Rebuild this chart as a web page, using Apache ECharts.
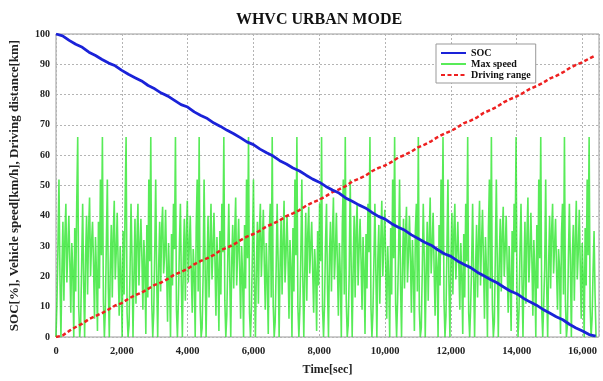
<!DOCTYPE html>
<html>
<head>
<meta charset="utf-8">
<script src="https://cdn.jsdelivr.net/npm/echarts@6/dist/echarts.min.js"></script>
<style>html,body{margin:0;padding:0;background:#fff;}#c{width:603px;height:381px;}</style>
</head>
<body>
<div id="c"></div>
<script>
// ---- data ----
const titleText = 'WHVC URBAN MODE';
const xName = 'Time[sec]';
const yName = 'SOC[%], Vehicle speed[km/h], Driving distance[km]';
const seriesNames = ['SOC', 'Max speed', 'Driving range'];
const xTicks = [0, 2000, 4000, 6000, 8000, 10000, 12000, 14000, 16000];
const yTicks = [0, 10, 20, 30, 40, 50, 60, 70, 80, 90, 100];

// SOC [%] and driving distance [km], sampled every 200 s
const lineStep = 200;
const socValues = [100.0,99.4,97.9,96.6,95.6,94.0,92.9,91.6,90.4,89.5,88.0,86.7,85.6,84.5,83.0,81.9,80.5,79.5,78.1,76.7,75.9,74.3,73.1,72.1,70.6,69.5,68.2,67.1,65.8,64.4,63.5,62.0,60.8,59.7,58.2,57.1,55.8,54.8,53.4,52.1,51.1,49.7,48.5,47.5,45.9,44.8,43.6,42.6,41.1,39.8,38.9,37.4,36.2,35.2,33.7,32.5,31.3,30.3,28.8,27.5,26.6,25.1,23.9,22.9,21.4,20.2,19.0,17.9,16.5,15.2,14.3,12.8,11.6,10.5,9.1,7.9,6.7,5.7,4.2,3.0,2.0,0.8,0.3];
const distValues = [0.0,0.5,2.0,3.3,4.4,5.9,6.9,7.9,9.1,10.4,11.2,12.6,13.8,14.6,15.9,17.2,18.0,19.2,20.6,21.5,22.5,24.0,25.1,26.0,27.1,28.6,29.5,30.5,31.9,33.1,34.0,35.1,36.5,37.4,38.5,39.9,40.8,41.9,43.3,44.4,45.3,46.5,47.8,48.7,49.8,51.3,52.2,53.2,54.7,55.8,56.6,57.8,59.2,60.1,61.2,62.6,63.5,64.6,66.0,67.1,68.0,69.2,70.6,71.4,72.5,74.0,74.9,76.0,77.4,78.5,79.4,80.6,81.9,82.8,83.9,85.3,86.2,87.3,88.7,89.8,90.7,91.9,93.0];

// vehicle speed [km/h], sampled every 30 s
const speedStep = 30;
const speedValues = [
0,12,30,52,20,0,22,38,12,33,44,18,29,40,25,8,31,22,0,36,15,44,66,10,0,
5,24,44,18,0,27,40,14,35,46,20,31,38,24,6,33,21,2,38,16,52,27,66,12,0,
9,31,52,16,0,24,37,13,34,45,19,28,41,23,7,30,20,0,35,14,44,66,8,0,
4,22,44,26,0,21,39,11,32,44,17,30,39,26,9,32,23,1,37,13,52,25,66,11,0,
8,28,52,19,0,23,38,15,36,43,21,27,42,24,5,31,19,0,34,17,44,29,66,9,0,
12,30,44,17,0,26,39,12,33,45,18,30,40,22,8,29,21,0,36,52,15,66,10,0,
3,20,52,24,0,22,40,13,31,44,19,29,41,25,7,33,22,2,35,14,44,28,66,12,0,
7,26,44,20,0,25,37,16,34,46,17,28,39,23,6,30,20,0,37,16,52,26,66,8,0,
10,29,52,18,0,23,38,11,35,44,20,31,42,24,9,31,19,1,34,44,13,66,11,0,
5,23,44,25,0,24,39,14,32,45,18,27,40,26,6,32,23,0,36,15,52,27,66,10,0,
9,27,52,19,0,22,41,12,34,43,21,30,38,22,8,29,21,2,35,17,44,25,66,9,0,
11,31,44,16,0,27,38,15,33,46,19,28,41,24,7,31,20,0,37,52,14,66,12,0,
4,21,52,23,0,23,40,13,35,44,17,29,39,25,9,33,22,1,34,16,44,28,66,10,0,
8,25,44,21,0,26,37,11,32,45,20,31,42,23,6,30,19,0,36,14,52,26,66,11,0,
12,28,52,17,0,24,39,16,34,43,18,27,40,26,8,32,21,2,35,44,15,66,9,0,
3,22,44,26,0,22,38,12,33,46,21,30,41,22,7,29,23,0,37,17,52,27,66,12,0,
7,30,52,18,0,25,41,14,35,44,19,28,38,24,9,31,20,1,34,13,44,25,66,8,0,
10,24,44,20,0,23,37,13,32,45,17,31,42,25,6,33,22,0,36,52,16,66,10,0,
5,27,52,24,0,26,39,15,34,43,20,29,40,23,8,30,19,2,35,15,44,28,66,11,0,
9,29,44,19,0,22,38,11,33,46,18,27,41,26,7,32,21,0,37,16,52,26,66,9,0,
11,23,52,17,0,24,40,16,35,44,21,30,39,22,9,29,23,1,34,44,14,66,12,0,
4,26,44,25,0,27,37,12,32,45,19,28,42,24,6,31,20,0,36,17,52,27,66,10,0,
6,22,35,14,0
];

// ---- build series pairs ----
const socData = socValues.map((v, i) => [i * lineStep, v]);
const distData = distValues.map((v, i) => [i * lineStep, v]);
const speedData = speedValues.map((v, i) => [i * speedStep, v]);

const serif = '"Liberation Serif", "DejaVu Serif", "Times New Roman", serif';
const chart = echarts.init(document.getElementById('c'), null, {renderer: 'canvas'});
chart.setOption({
  animation: false,
  backgroundColor: '#ffffff',
  title: {
    text: titleText, left: 314, top: 7, textAlign: 'center',
    textStyle: {fontFamily: serif, fontWeight: 'bold', fontSize: 16, color: '#111'}
  },
  legend: {
    orient: 'vertical', left: 436, top: 44,
    data: seriesNames,
    backgroundColor: '#fff', borderColor: '#999', borderWidth: 1,
    padding: [4, 5, 3, 4], itemWidth: 25, itemHeight: 8, itemGap: 1,
    itemStyle: {opacity: 0},
    textStyle: {fontFamily: serif, fontWeight: 'bold', fontSize: 10, color: '#111', lineHeight: 10}
  },
  grid: {left: 52, right: 4, top: 34, bottom: 42, show: true, borderColor: '#9a9a9a', borderWidth: 1, containLabel: false},
  xAxis: {
    type: 'value', min: 0, max: 16500, interval: 2000,
    name: xName, nameLocation: 'middle', nameGap: 27,
    nameTextStyle: {fontFamily: serif, fontWeight: 'bold', fontSize: 12, color: '#222'},
    axisLine: {show: false}, axisTick: {show: false},
    axisLabel: {
      showMaxLabel: false, margin: 9,
      fontFamily: serif, fontWeight: 'bold', fontSize: 10.5, color: '#222',
      formatter: v => xTicks.indexOf(v) >= 0 ? v.toLocaleString('en-US') : ''
    },
    splitLine: {show: true, lineStyle: {color: '#b4b4b4', width: 1, type: [2, 2]}}
  },
  yAxis: {
    type: 'value', min: 0, max: 100, interval: 10,
    name: yName, nameLocation: 'middle', nameGap: 35,
    nameTextStyle: {fontFamily: serif, fontWeight: 'bold', fontSize: 13, color: '#222'},
    axisLine: {show: false}, axisTick: {show: false},
    axisLabel: {
      margin: 6, fontFamily: serif, fontWeight: 'bold', fontSize: 10, color: '#222',
      formatter: v => yTicks.indexOf(v) >= 0 ? String(v) : ''
    },
    splitLine: {show: true, lineStyle: {color: '#b4b4b4', width: 1, type: [2, 2]}}
  },
  series: [
    {
      name: seriesNames[1], type: 'line', data: speedData, symbol: 'none', sampling: null,
      lineStyle: {color: '#2ee62e', width: 1.6, opacity: 0.8}, itemStyle: {color: '#2ee62e'}, z: 1
    },
    {
      name: seriesNames[2], type: 'line', data: distData, symbol: 'none',
      lineStyle: {color: '#ee2020', width: 2.5, type: [4, 2.5]}, itemStyle: {color: '#ee2020'}, z: 3
    },
    {
      name: seriesNames[0], type: 'line', data: socData, symbol: 'none',
      lineStyle: {color: '#1a22d8', width: 2.8}, itemStyle: {color: '#1a22d8'}, z: 4
    }
  ]
});
</script>
</body>
</html>
